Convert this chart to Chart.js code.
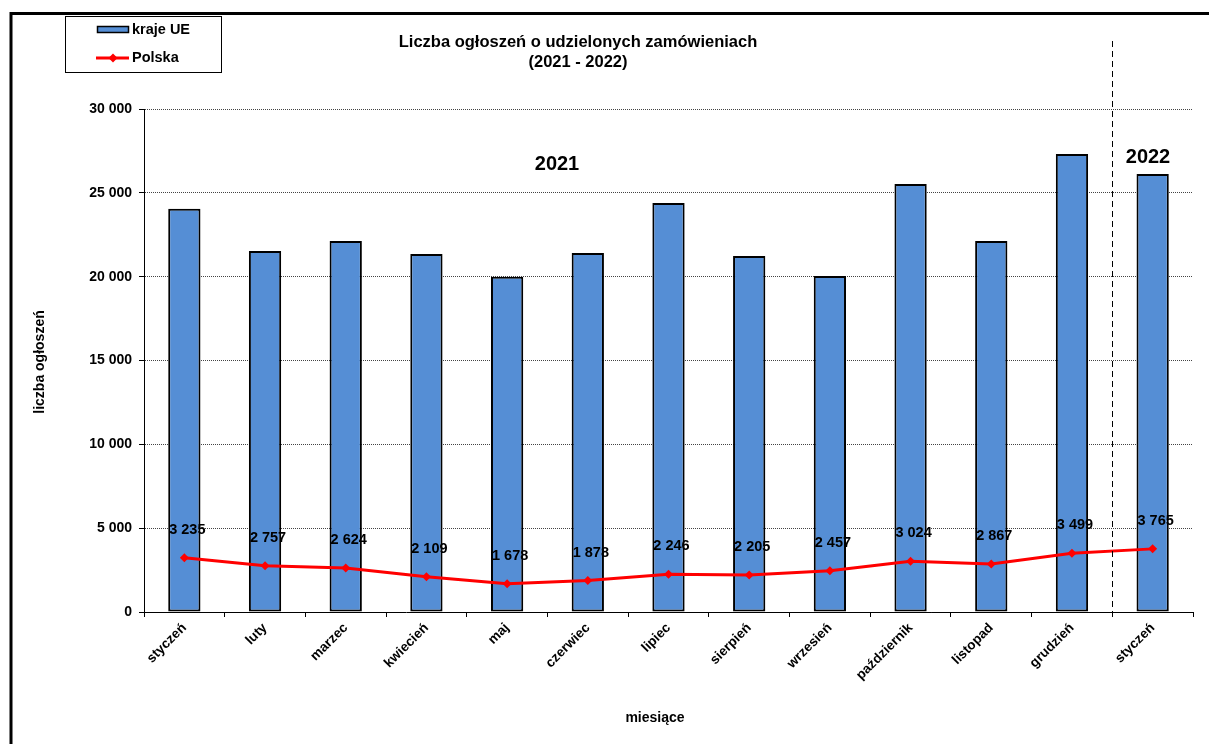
<!DOCTYPE html>
<html>
<head>
<meta charset="utf-8">
<script src="https://cdn.jsdelivr.net/npm/chart.js@4.4.1/dist/chart.umd.min.js"></script>
<style>
    html, body { margin: 0; padding: 0; background: #fff; }
    #wrap { width: 1209px; height: 744px; }
</style>
</head>
<body>
<div id="wrap"><canvas id="chart" width="1209" height="744"></canvas></div>
<script>
const months = ['styczeń', 'luty', 'marzec', 'kwiecień', 'maj', 'czerwiec', 'lipiec',
    'sierpień', 'wrzesień', 'październik', 'listopad', 'grudzień', 'styczeń'];
const krajeUE = [24050, 21530, 22130, 21350, 20000, 21410, 24390, 21230, 20040, 25530, 22130, 27320, 26120];
const polska = [3235, 2757, 2624, 2109, 1678, 1878, 2246, 2205, 2457, 3024, 2867, 3499, 3765];
const yTicks = [0, 5000, 10000, 15000, 20000, 25000, 30000];

const FONT = "'Liberation Sans', Arial, sans-serif";
const BLUE = '#558ED5';

function fmt(v) {
    return String(v).replace(/\B(?=(\d{3})+(?!\d))/g, ' ');
}

// frame, legend, titles, year markers, point labels
const decorations = {
    id: 'decorations',
    beforeDraw(chart) {
        const ctx = chart.ctx;
        ctx.save();
        ctx.fillStyle = '#fff';
        ctx.fillRect(0, 0, chart.width, chart.height);
        ctx.restore();
    },
    afterDraw(chart) {
        const ctx = chart.ctx;
        const x = chart.scales.x;
        const area = chart.chartArea;
        ctx.save();

        // outer frame (cut off right and bottom)
        ctx.strokeStyle = '#000';
        ctx.lineWidth = 3;
        ctx.beginPath();
        ctx.moveTo(11, 744);
        ctx.lineTo(11, 13.5);
        ctx.lineTo(1209, 13.5);
        ctx.stroke();

        // legend
        ctx.lineWidth = 1;
        ctx.strokeRect(65.5, 16.5, 156, 56);
        ctx.fillStyle = BLUE;
        ctx.fillRect(97, 26, 32, 7);
        ctx.lineWidth = 1.5;
        ctx.strokeRect(97.5, 26.5, 31, 6);
        ctx.strokeStyle = '#f00';
        ctx.lineWidth = 3;
        ctx.beginPath();
        ctx.moveTo(96, 58);
        ctx.lineTo(129, 58);
        ctx.stroke();
        ctx.fillStyle = '#f00';
        ctx.beginPath();
        ctx.moveTo(113, 53.5); ctx.lineTo(117.5, 58); ctx.lineTo(113, 62.5); ctx.lineTo(108.5, 58);
        ctx.closePath();
        ctx.fill();
        ctx.fillStyle = '#000';
        ctx.font = 'bold 14.5px ' + FONT;
        ctx.textAlign = 'left';
        ctx.textBaseline = 'middle';
        ctx.fillText('kraje UE', 132, 30);
        ctx.fillText('Polska', 132, 58);

        // title
        ctx.textAlign = 'center';
        ctx.font = 'bold 16.5px ' + FONT;
        ctx.fillText('Liczba ogłoszeń o udzielonych zamówieniach', 578, 42);
        ctx.fillText('(2021 - 2022)', 578, 62);

        // axis titles
        ctx.font = 'bold 14px ' + FONT;
        ctx.fillText('miesiące', 655, 718);
        ctx.save();
        ctx.translate(40, 362);
        ctx.rotate(-Math.PI / 2);
        ctx.fillText('liczba ogłoszeń', 0, 0);
        ctx.restore();

        // year separator
        const sepX = Math.round((x.getPixelForValue(11) + x.getPixelForValue(12)) / 2) + 0.5;
        ctx.strokeStyle = '#000';
        ctx.lineWidth = 1;
        ctx.setLineDash([6, 4]);
        ctx.beginPath();
        ctx.moveTo(sepX, 41);
        ctx.lineTo(sepX, area.bottom);
        ctx.stroke();
        ctx.setLineDash([]);

        ctx.font = 'bold 20px ' + FONT;
        ctx.fillText('2021', 557, 164);
        ctx.fillText('2022', 1148, 157);

        // point labels for Polska
        const meta = chart.getDatasetMeta(0);
        ctx.font = 'bold 14.5px ' + FONT;
        meta.data.forEach((pt, i) => {
            ctx.fillText(fmt(polska[i]), pt.x + 3, pt.y - 28);
        });
        ctx.restore();
    }
};

new Chart(document.getElementById('chart'), {
    data: {
        labels: months,
        datasets: [
            {
                type: 'line',
                label: 'Polska',
                data: polska,
                borderColor: '#ff0000',
                backgroundColor: '#ff0000',
                borderWidth: 3,
                pointStyle: 'rectRot',
                pointRadius: 4.5,
                pointBorderWidth: 0,
                tension: 0,
                order: 0
            },
            {
                type: 'bar',
                label: 'kraje UE',
                data: krajeUE,
                backgroundColor: BLUE,
                borderColor: '#000',
                borderWidth: 2,
                borderSkipped: false,
                barPercentage: 0.4,
                categoryPercentage: 1,
                order: 1
            }
        ]
    },
    options: {
        responsive: false,
        animation: false,
        devicePixelRatio: 1,
        layout: {
            padding: { top: 109, right: 16, left: 0, bottom: 0 }
        },
        plugins: {
            legend: { display: false },
            tooltip: { enabled: false }
        },
        scales: {
            x: {
                afterFit: s => { s.height = 132; },
                grid: {
                    offset: true,
                    drawOnChartArea: false,
                    drawTicks: true,
                    tickLength: 5,
                    color: '#000'
                },
                border: { color: '#000', width: 1 },
                ticks: {
                    color: '#000',
                    font: { family: FONT, size: 13.5, weight: 'bold' },
                    maxRotation: 45,
                    minRotation: 45,
                    autoSkip: false,
                    padding: 3
                }
            },
            y: {
                min: 0,
                max: 30000,
                afterFit: s => { s.width = 144; },
                afterBuildTicks: s => { s.ticks = yTicks.map(v => ({ value: v })); },
                grid: {
                    color: '#444',
                    lineWidth: 1,
                    tickLength: 5,
                    tickBorderDash: [],
                    tickColor: '#000'
                },
                border: { color: '#000', width: 1, dash: [1, 1] },
                ticks: {
                    color: '#000',
                    font: { family: FONT, size: 14, weight: 'bold' },
                    padding: 7,
                    callback: v => fmt(v)
                }
            }
        }
    },
    plugins: [decorations]
});
</script>
</body>
</html>
